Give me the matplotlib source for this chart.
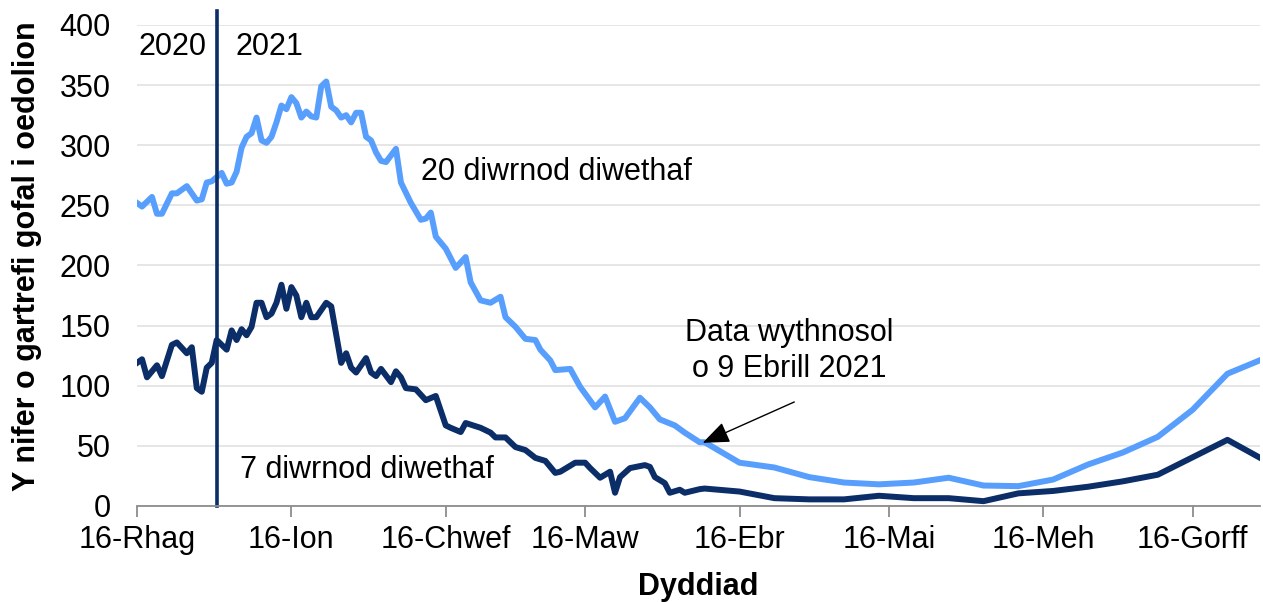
import numpy as np
import pandas as pd
import matplotlib
matplotlib.use("Agg")
import matplotlib.pyplot as plt

plt.rcParams['font.family'] = ['Liberation Sans', 'DejaVu Sans']

start = pd.Timestamp("2020-12-16")

# 20 diwrnod diwethaf (days since 16 Dec 2020, value)
days_20 = [0, 1, 3, 4, 5, 7, 8, 10, 12, 13, 14, 15, 17, 18, 19, 20, 21, 22, 23, 24,
           25, 26, 27, 28, 29, 30, 31, 32, 33, 34, 35, 36, 37, 38, 39, 40, 41, 42, 43, 44,
           45, 46, 47, 48, 49, 50, 52, 53, 55, 57, 58, 59, 60, 62, 64, 66, 67, 69, 71, 73,
           74, 76, 78, 80, 81, 83, 84, 87, 89, 92, 94, 96, 98, 101, 103, 105, 108, 110, 113,
           114, 121, 128, 135, 142, 149, 156, 163, 170, 177, 184, 191, 198, 205, 212, 219, 226]
vals_20 = [252, 249, 257, 243, 243, 260, 260, 266, 254, 255, 269, 270, 277, 268, 269, 278, 298, 307, 310, 323,
           304, 302, 307, 319, 333, 330, 340, 335, 323, 328, 324, 323, 349, 353, 332, 329, 323, 325, 319, 327,
           327, 307, 304, 294, 287, 286, 297, 269, 252, 238, 239, 244, 224, 214, 198, 207, 186, 171, 169, 174,
           157, 149, 139, 138, 130, 121, 113, 114, 99, 82, 91, 70, 73, 90, 82, 72, 67, 61, 53,
           53, 36, 32, 24, 19.5, 18, 19.5, 23.5, 17, 16.5, 22, 34.5, 44.5, 57.5, 80, 110, 122]

# 7 diwrnod diwethaf
days_7 = [0, 1, 2, 4, 5, 7, 8, 10, 11, 12, 13, 14, 15, 16, 18, 19, 20, 21, 22, 23,
          24, 25, 26, 27, 28, 29, 30, 31, 32, 33, 34, 35, 36, 38, 39, 41, 42, 43, 44, 46,
          47, 48, 49, 51, 52, 53, 54, 56, 58, 60, 62, 63, 65, 66, 69, 71, 72, 74, 76, 78,
          80, 82, 84, 85, 88, 90, 91, 93, 95, 96, 97, 99, 102, 103, 104, 106, 107, 109, 110, 113,
          114, 121, 128, 135, 142, 149, 156, 163, 170, 177, 184, 191, 198, 205, 212, 219, 226]
vals_7 = [119, 122, 107, 117, 108, 134, 136, 127, 132, 98, 95, 115, 119, 138, 130, 146, 138, 147, 142, 149,
          169, 169, 157, 160, 169, 184, 164, 182, 175, 157, 169, 157, 157, 169, 166, 119, 127, 115, 111, 123,
          111, 108, 114, 103, 112, 107, 98, 97, 88, 91.5, 67, 65, 61.5, 69, 65, 61, 57, 57, 49, 46.5,
          40, 37.5, 27.5, 28.5, 36, 36, 31.5, 23.5, 28.5, 11, 24, 31.5, 34, 32.5, 24, 19, 11, 13.5, 11, 14,
          14.5, 12, 6.5, 5.5, 5.5, 8.5, 6.5, 6.5, 4, 10.5, 12.5, 16, 20.5, 26, 40.5, 55, 39]

tick_labels = ["16-Rhag", "16-Ion", "16-Chwef", "16-Maw", "16-Ebr", "16-Mai", "16-Meh", "16-Gorff"]

dates_20 = start + pd.to_timedelta(days_20, unit="D")
dates_7 = start + pd.to_timedelta(days_7, unit="D")

light = "#589ffd"
dark = "#0b2d68"

fig = plt.figure(figsize=(12.63, 6.02), dpi=100)
ax = fig.add_axes([0.1085, 0.1595, 0.889, 0.799])

ax.plot(dates_20, vals_20, color=light, lw=4.3)
ax.plot(dates_7, vals_7, color=dark, lw=4.3)

ax.set_ylim(0, 400)
ax.set_yticks(np.arange(0, 401, 50))
ax.set_xlim(start, start + pd.Timedelta(days=225.5))
ticks = [pd.Timestamp(2020, 12, 16)] + [pd.Timestamp(2021, m, 16) for m in range(1, 8)]
ax.set_xticks(ticks)
ax.set_xticklabels(tick_labels)

ax.grid(axis="y", color="#e4e4e4", lw=1.3)
ax.set_axisbelow(True)
for s in ["top", "right", "left"]:
    ax.spines[s].set_visible(False)
ax.spines["bottom"].set_color("#8c8c8c")
ax.spines["bottom"].set_linewidth(1.3)
ax.tick_params(axis="y", length=0, pad=19, labelsize=22)
ax.tick_params(axis="x", length=8, width=1.3, color="#8c8c8c", labelsize=22, pad=6)

# year divider
split = pd.Timestamp("2021-01-01")
ax.plot([split, split], [0, 1.03], color=dark, lw=2.6,
        transform=ax.get_xaxis_transform(), clip_on=False)
ax.text(start + pd.Timedelta(days=0.2), 382, "2020", fontsize=22, va="center", ha="left")
ax.text(start + pd.Timedelta(days=19.8), 382, "2021", fontsize=22, va="center", ha="left")

ax.text(start + pd.Timedelta(days=57), 278, "20 diwrnod diwethaf", fontsize=22, va="center")
ax.text(start + pd.Timedelta(days=20.6), 30, "7 diwrnod diwethaf", fontsize=22, va="center")

ax.text(start + pd.Timedelta(days=131), 129, "Data wythnosol\no 9 Ebrill 2021", fontsize=22,
        ha="center", va="center", linespacing=1.25)
ax.annotate("", xy=(start + pd.Timedelta(days=113.6), 52.5),
            xytext=(start + pd.Timedelta(days=132), 86.5),
            arrowprops=dict(arrowstyle="-|>,head_length=0.75,head_width=0.3", color="black",
                            lw=1, shrinkA=0, shrinkB=0, mutation_scale=22))

ax.set_ylabel("Y nifer o gartrefi gofal i oedolion", fontsize=22, fontweight="bold")
ax.yaxis.set_label_coords(-0.085, 0.52)
ax.set_xlabel("Dyddiad", fontsize=22, fontweight="bold", labelpad=12)

fig.savefig("out.png", dpi=100)
